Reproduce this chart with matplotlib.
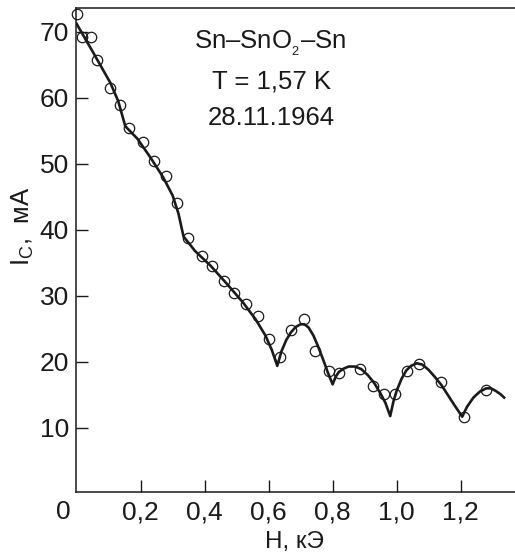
import matplotlib
matplotlib.use('Agg')
import matplotlib.pyplot as plt

plt.rcParams['font.family'] = ['Liberation Sans', 'DejaVu Sans']
plt.rcParams['mathtext.fontset'] = 'custom'
plt.rcParams['mathtext.rm'] = 'Liberation Sans'

# measured points (open circles)
h_pts = [0.000, 0.016, 0.044, 0.063, 0.105, 0.136, 0.165, 0.206, 0.242, 0.279,
         0.313, 0.348, 0.391, 0.422, 0.461, 0.493, 0.529, 0.568, 0.600, 0.637,
         0.670, 0.711, 0.746, 0.789, 0.821, 0.886, 0.926, 0.961, 0.996, 1.032,
         1.069, 1.138, 1.210, 1.279]
ic_pts = [72.7, 69.2, 69.2, 65.8, 61.5, 58.9, 55.5, 53.3, 50.5, 48.2,
          44.1, 38.8, 36.0, 34.6, 32.2, 30.4, 28.8, 26.9, 23.5, 20.8,
          24.8, 26.5, 21.7, 18.7, 18.3, 19.0, 16.4, 15.1, 15.1, 18.7,
          19.7, 17.0, 11.6, 15.8]

# fitted curve as drawn
h_curve = [0.000, 0.050, 0.105, 0.130, 0.152, 0.190, 0.230, 0.270, 0.300, 0.318,
           0.334, 0.370, 0.420, 0.470, 0.520, 0.560, 0.590, 0.610, 0.627,
           0.640, 0.655, 0.670, 0.685, 0.700, 0.712, 0.725, 0.740, 0.755, 0.770,
           0.785, 0.800,
           0.810, 0.820, 0.835, 0.850, 0.870, 0.890, 0.910, 0.930, 0.950, 0.965,
           0.980,
           0.990, 1.000, 1.015, 1.030, 1.045, 1.063, 1.080, 1.100, 1.120, 1.140,
           1.160, 1.180, 1.205,
           1.220, 1.240, 1.260, 1.280, 1.295, 1.310, 1.325, 1.336]
ic_curve = [71.2, 67.0, 62.3, 59.5, 55.7, 53.8, 51.0, 48.0, 45.2, 42.5,
            39.0, 36.8, 34.5, 31.8, 29.0, 26.4, 24.0, 21.8, 19.4,
            21.6, 23.3, 24.5, 25.3, 25.7, 25.7, 25.2, 24.0, 22.3, 20.4,
            18.4, 16.6,
            17.8, 18.5, 19.0, 19.3, 19.3, 18.9, 18.0, 16.8, 15.2, 13.8,
            11.8,
            14.0, 15.6, 17.4, 18.7, 19.4, 19.8, 19.6, 18.8, 17.7, 16.5,
            15.0, 13.5, 11.7,
            13.2, 14.6, 15.5, 16.0, 16.0, 15.6, 15.1, 14.6]

x_ticks = [0.2, 0.4, 0.6, 0.8, 1.0, 1.2]
x_tick_labels = ['0,2', '0,4', '0,6', '0,8', '1,0', '1,2']
y_ticks = [10, 20, 30, 40, 50, 60, 70]

ink = '#1a1a1a'

fig = plt.figure(figsize=(5.15, 5.55), dpi=100)
ax = fig.add_axes([76 / 515, 63 / 555, 1 - 76 / 515, 484 / 555])

ax.plot(h_curve, ic_curve, color=ink, lw=1.9)
ax.plot(h_pts, ic_pts, 'o', mfc='none', mec=ink, ms=7.5, mew=0.9,
        clip_on=False)

ax.set_xlim(-0.002, 1.37)
ax.set_ylim(0.3, 73.6)

ax.spines['right'].set_visible(False)
for s in ['left', 'bottom', 'top']:
    ax.spines[s].set_linewidth(1.1)
    ax.spines[s].set_color(ink)

ax.set_xticks(x_ticks)
ax.set_xticklabels(x_tick_labels)
ax.set_yticks(y_ticks)
ax.tick_params(direction='in', length=8.5, width=1.0, labelsize=19,
               color=ink, labelcolor=ink)
ax.tick_params(axis='x', pad=6)
ax.tick_params(axis='y', pad=5)

ax.text(-0.043, -0.042, '0', transform=ax.get_xaxis_transform(),
        ha='center', va='center', fontsize=19, color=ink)

ax.set_xlabel('H, кЭ', fontsize=17.5, color=ink)
ax.xaxis.set_label_coords(0.497, -0.081)
ax.set_ylabel(r'I$_\mathregular{C}$,  мА', fontsize=18.5, color=ink)
ax.yaxis.set_label_coords(-0.092, 0.55)

ax.text(0.441, 0.928, r'Sn–SnO$_\mathregular{_2}$–Sn', transform=ax.transAxes,
        ha='center', va='center', fontsize=18.5, color=ink)
ax.text(0.445, 0.849, 'T = 1,57 K', transform=ax.transAxes,
        ha='center', va='center', fontsize=18.5, color=ink)
ax.text(0.445, 0.772, '28.11.1964', transform=ax.transAxes,
        ha='center', va='center', fontsize=18.5, color=ink)

plt.savefig('out.png', dpi=100)
plt.close()
